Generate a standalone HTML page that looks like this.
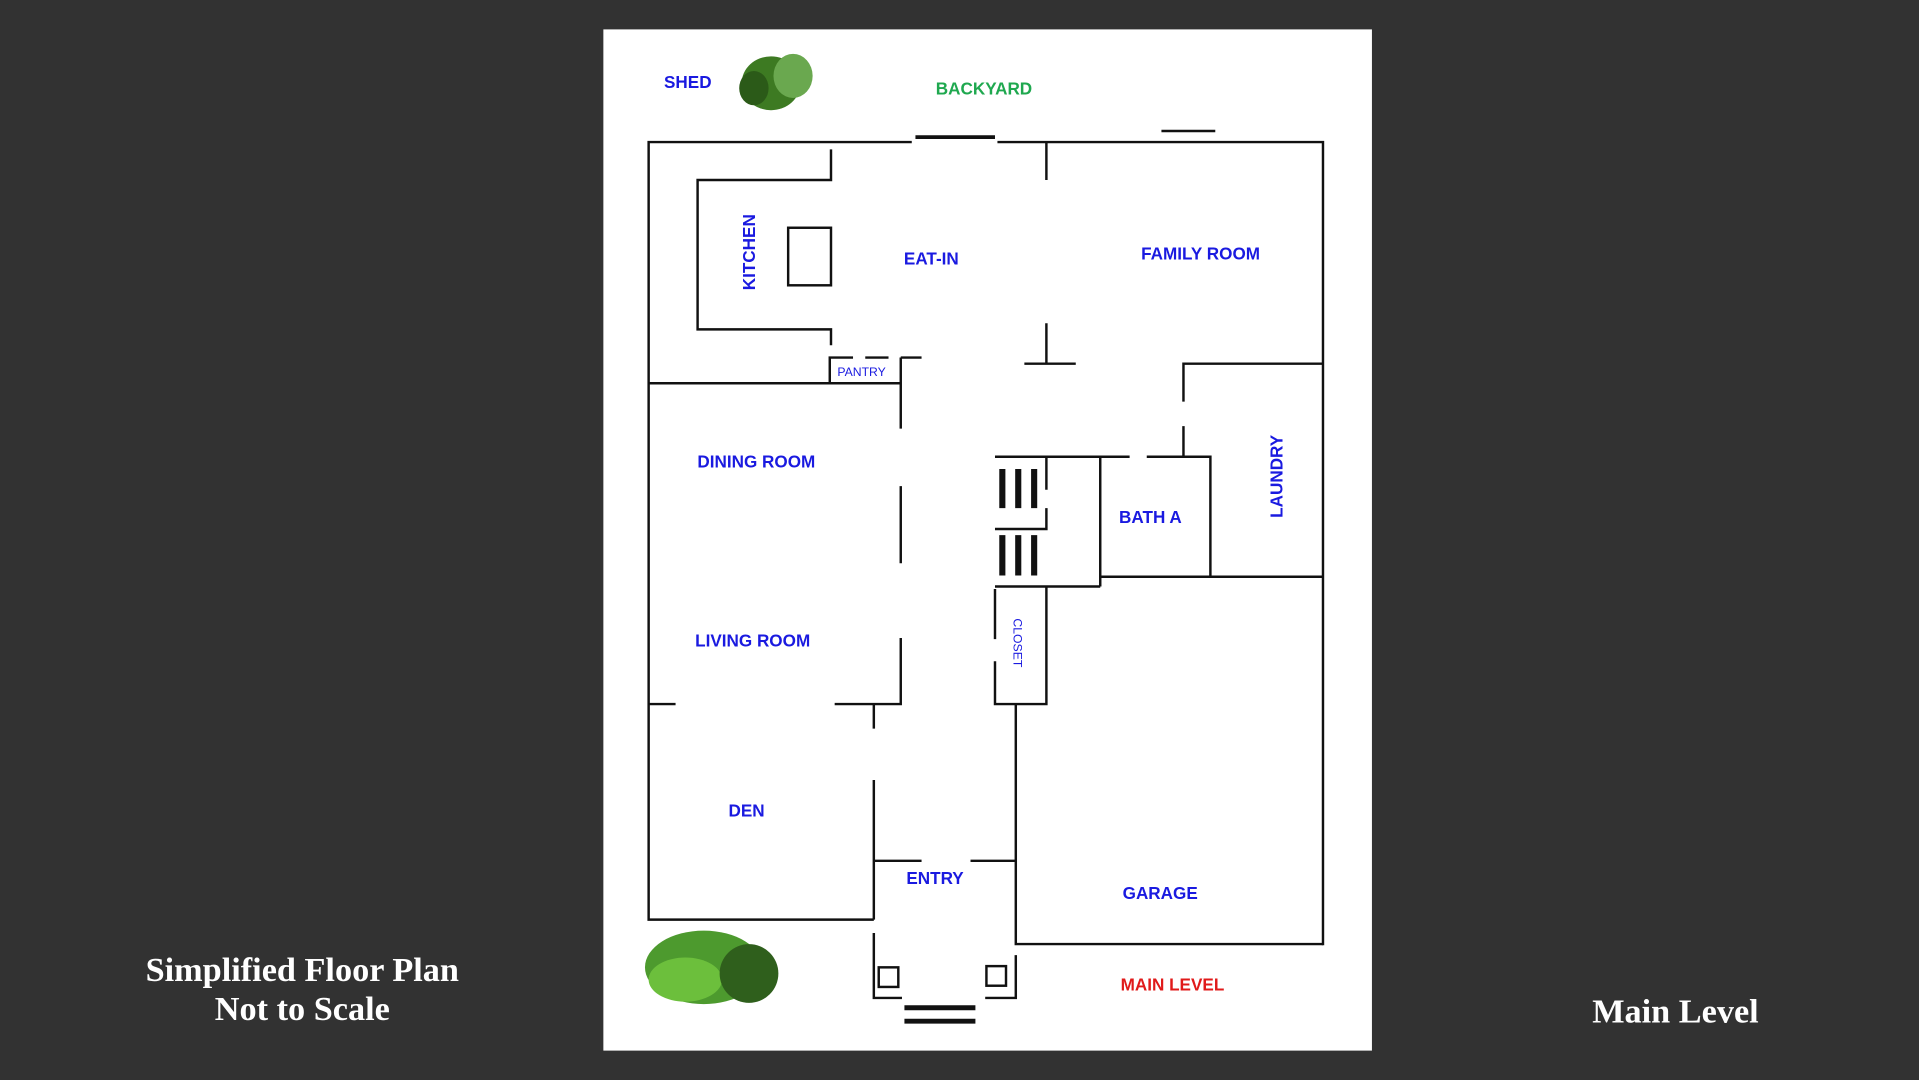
<!DOCTYPE html>
<html><head><meta charset="utf-8"><style>
html,body{margin:0;padding:0;background:#323232;width:1919px;height:1080px;overflow:hidden}
svg{display:block}
.w{stroke:#111;stroke-width:2;fill:none}
.t{font-family:"Liberation Sans",sans-serif;font-weight:bold;fill:#1a1ae0;font-size:14px;text-anchor:middle}
.s{font-family:"Liberation Serif",serif;font-weight:bold;fill:#fff;font-size:28px;text-anchor:middle}
</style></head><body>
<svg width="1919" height="1080" viewBox="0 0 1568 882" preserveAspectRatio="none">
<rect x="0" y="0" width="1568" height="882" fill="#323232"/>
<rect x="493" y="24" width="628" height="834" fill="#fff"/>
<g class="w">
<path d="M745 116H530V751H714"/>
<path d="M815 116H1081V772"/>
<path d="M748 112H813" stroke-width="3"/>
<path d="M949 107H993"/>
<path d="M679 122V147H570V269H679V282"/>
<rect x="644" y="186" width="35" height="47"/>
<path d="M855 116V147M855 264V297M837 297H879"/>
<path d="M678 313V292H697M707 292H726M736 292H753M736 292V350"/>
<path d="M530 313H736"/>
<path d="M736 397V460M736 521V575H682M530 575H552"/>
<path d="M714 575V595M714 637V751"/>
<path d="M1081 297H967V328M967 348V373"/>
<path d="M813 373H923M937 373H989V471"/>
<path d="M899 373V479M899 471H1081"/>
<path d="M855 373V400M855 415V432H813M813 479H899" />
<path d="M813 481V522M813 540V575H855V479"/>
<path d="M830 575V771H1081" />
<path d="M714 703H753M793 703H830"/>
<path d="M714 762V815H737M805 815H830V780"/>
<rect x="718" y="790" width="16" height="16"/>
<rect x="806" y="789" width="16" height="16"/>
<path d="M739 823H797M739 834H797" stroke-width="4"/>
<path d="M819 383V415M832 383V415M845 383V415M819 437V470M832 437V470M845 437V470" stroke-width="5"/>
</g>
<g>
<ellipse cx="630" cy="68" rx="24" ry="22" fill="#3d7a22"/>
<ellipse cx="648" cy="62" rx="16" ry="18" fill="#6aa84f"/>
<ellipse cx="616" cy="72" rx="12" ry="14" fill="#2b5a18"/>
<ellipse cx="575" cy="790" rx="48" ry="30" fill="#4d9a2e"/>
<ellipse cx="560" cy="800" rx="30" ry="18" fill="#6cbf3c"/>
<ellipse cx="612" cy="795" rx="24" ry="24" fill="#2f5f1c"/>
</g>
<text class="t" x="562" y="72">SHED</text>
<text class="t" x="804" y="77" style="fill:#1fa84f">BACKYARD</text>
<text class="t" x="0" y="0" transform="translate(617 206) rotate(-90)">KITCHEN</text>
<text class="t" x="761" y="216">EAT-IN</text>
<text class="t" x="981" y="212">FAMILY ROOM</text>
<text class="t" x="704" y="307" style="font-size:10px;font-weight:normal">PANTRY</text>
<text class="t" x="618" y="382">DINING ROOM</text>
<text class="t" x="0" y="0" transform="translate(1048 389) rotate(-90)">LAUNDRY</text>
<text class="t" x="940" y="427">BATH A</text>
<text class="t" x="615" y="528">LIVING ROOM</text>
<text class="t" x="0" y="0" transform="translate(828 525) rotate(90)" style="font-size:10px;font-weight:normal">CLOSET</text>
<text class="t" x="610" y="667">DEN</text>
<text class="t" x="764" y="722">ENTRY</text>
<text class="t" x="948" y="734">GARAGE</text>
<text class="t" x="958" y="809" style="fill:#e01a1a">MAIN LEVEL</text>
<text class="s" x="247" y="801">Simplified Floor Plan</text>
<text class="s" x="247" y="833">Not to Scale</text>
<text class="s" x="1369" y="835">Main Level</text>
</svg>
</body></html>
